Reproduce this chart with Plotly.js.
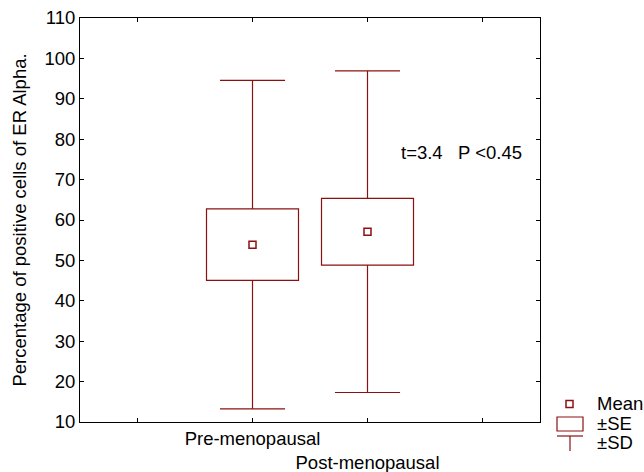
<!DOCTYPE html>
<html>
<head>
<meta charset="utf-8">
<script src="https://cdn.plot.ly/plotly-3.0.1.min.js"></script>
<style>html,body{margin:0;padding:0;background:#fff;}</style>
</head>
<body>
<div id="chart" style="width:644px;height:472px;"></div>
<script>
// ---- data ----
const groups = ['Pre-menopausal', 'Post-menopausal'];
const groupX = [1, 2];
const means = [53.9, 57.1];
const se = [8.85, 8.25];
const sd = [40.65, 39.8];
const yTicks = [10, 20, 30, 40, 50, 60, 70, 80, 90, 100, 110];
const statText = 't=3.4\u00a0\u00a0\u00a0P <0.45';
const legendLabels = ['Mean', '\u00b1SE', '\u00b1SD'];

const RED = '#8b1111';
const FONT = 'Liberation Sans, Arial, sans-serif';
const FS = 18.5;
const BOXW = 0.8, CAPHALF = 0.283;

const traces = [];
// ±SE boxes
traces.push({
  type: 'bar', x: groupX,
  base: means.map((m, i) => m - se[i]),
  y: se.map(s => 2 * s),
  width: BOXW,
  marker: {color: '#ffffff', line: {color: RED, width: 1.2}},
  hoverinfo: 'skip', showlegend: false
});
// ±SD whiskers
groups.forEach((g, i) => {
  const x = groupX[i];
  const lo = means[i] - se[i], hi = means[i] + se[i];
  const top = means[i] + sd[i], bot = means[i] - sd[i];
  traces.push({
    type: 'scatter', mode: 'lines',
    x: [x - CAPHALF, x + CAPHALF, null, x, x, null, x, x, null, x - CAPHALF, x + CAPHALF],
    y: [top, top, null, top, hi, null, lo, bot, null, bot, bot],
    line: {color: RED, width: 1.2}, hoverinfo: 'skip', showlegend: false
  });
});
// means
traces.push({
  type: 'scatter', mode: 'markers', x: groupX, y: means,
  marker: {symbol: 'square-open', size: 7, color: RED, line: {width: 1.5, color: RED}},
  showlegend: false, hoverinfo: 'skip'
});

// pixel -> paper helpers for the legend (plot area 80..540 x 18..422)
const L = 80, R = 540, T = 18, B = 422;
const px = v => (v - L) / (R - L);
const py = v => (B - v) / (B - T);

const shapes = [
  {type: 'rect', xref: 'paper', yref: 'paper', x0: px(566), x1: px(573), y0: py(407.5), y1: py(400.5), line: {color: RED, width: 1.5}},
  {type: 'rect', xref: 'paper', yref: 'paper', x0: px(557), x1: px(583), y0: py(431), y1: py(417), line: {color: RED, width: 1.2}},
  {type: 'line', xref: 'paper', yref: 'paper', x0: px(557), x1: px(583), y0: py(436), y1: py(436), line: {color: RED, width: 1.2}},
  {type: 'line', xref: 'paper', yref: 'paper', x0: px(570), x1: px(570), y0: py(436), y1: py(451), line: {color: RED, width: 1.2}}
];

const legY = [403.5, 423.5, 442.5];
const annotations = legendLabels.map((t, i) => ({
  xref: 'paper', yref: 'paper', x: px(595), y: py(legY[i]), text: t,
  xanchor: 'left', yanchor: 'middle', showarrow: false,
  font: {family: FONT, size: FS, color: '#000'}
}));
annotations.push({
  xref: 'x', yref: 'y', x: 2.27, y: 76.6, text: statText,
  xanchor: 'left', yanchor: 'middle', showarrow: false,
  font: {family: FONT, size: FS, color: '#000'}
});

const layout = {
  width: 644, height: 472,
  margin: {l: L, r: 644 - R, t: T, b: 472 - B},
  paper_bgcolor: '#fff', plot_bgcolor: '#fff',
  showlegend: false, bargap: 0,
  font: {family: FONT, color: '#000'},
  xaxis: {
    range: [-0.5, 3.5], tickmode: 'array', tickvals: [0, 1, 2, 3],
    ticktext: ['', groups[0], '<br>' + groups[1], ''],
    tickangle: 0,
    ticks: 'inside', ticklen: 4, tickcolor: '#000', mirror: 'ticks',
    showline: true, linecolor: '#000', linewidth: 1,
    showgrid: false, zeroline: false, automargin: false,
    tickfont: {family: FONT, size: FS, color: '#000'}
  },
  yaxis: {
    range: [10, 110], tickmode: 'array', tickvals: yTicks,
    ticks: 'inside', ticklen: 4, tickcolor: '#000', mirror: 'ticks',
    showline: true, linecolor: '#000', linewidth: 1,
    showgrid: false, zeroline: false, automargin: false,
    tickfont: {family: FONT, size: FS, color: '#000'},
    title: {text: 'Percentage of positive cells of ER Alpha.', font: {family: FONT, size: FS, color: '#000'}, standoff: 12}
  },
  shapes: shapes,
  annotations: annotations
};

Plotly.newPlot('chart', traces, layout, {displayModeBar: false, staticPlot: true});
</script>
</body>
</html>
